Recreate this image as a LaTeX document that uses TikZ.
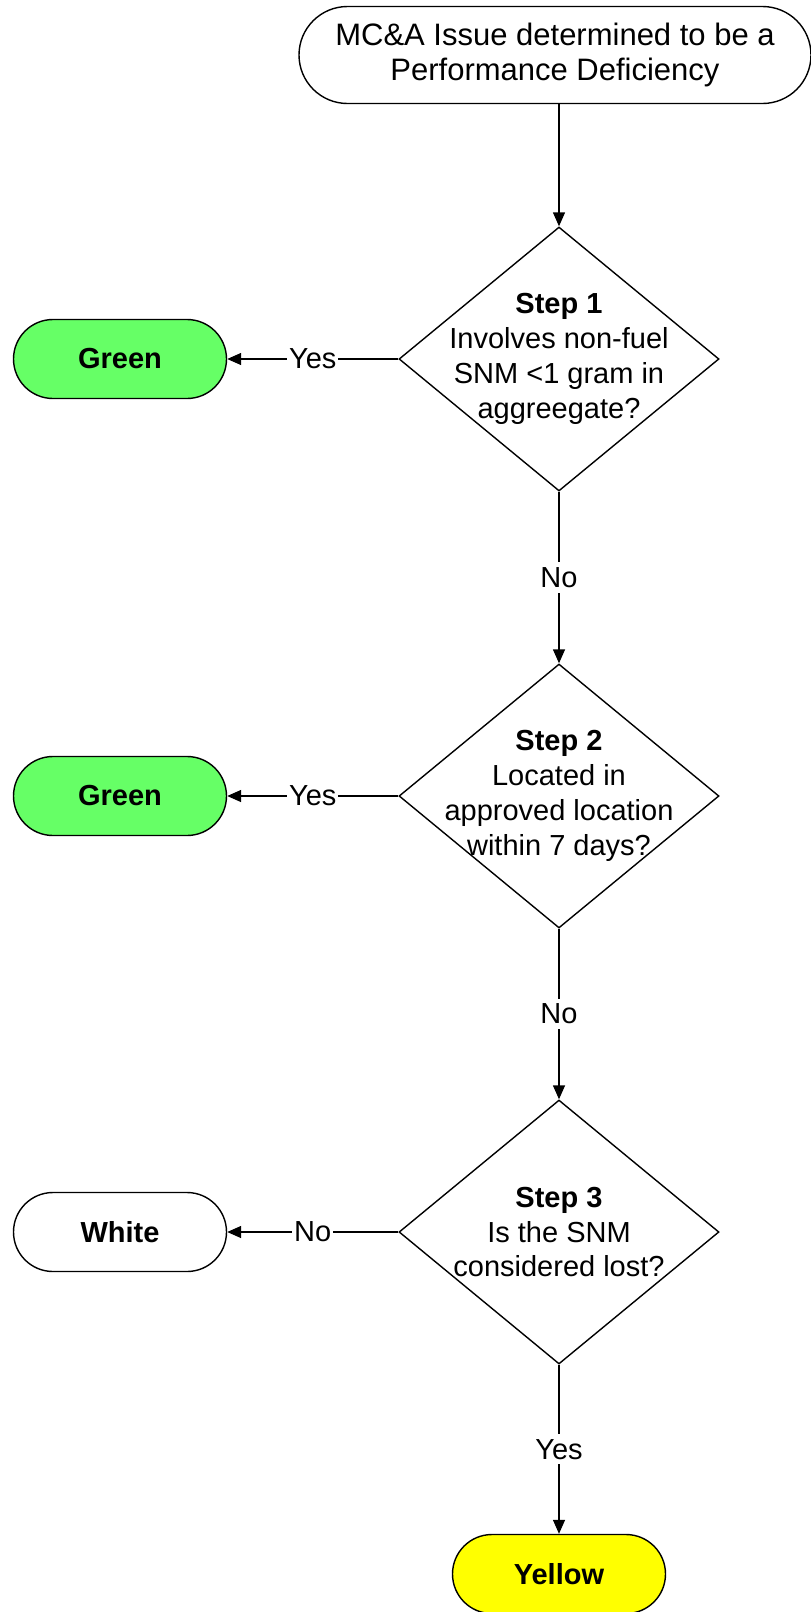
\documentclass[tikz,border=0pt]{standalone}
\usepackage{fontspec}
\setmainfont{Liberation Sans}
\usepackage{xcolor}
\usetikzlibrary{shapes.misc,shapes.geometric,arrows.meta}

\definecolor{passgreen}{RGB}{102,255,102}
\definecolor{passyellow}{RGB}{255,255,0}

\begin{document}
\begin{tikzpicture}[
	%	style def
    x=1pt, y=-1pt,
    important line/.style={line width=1.4pt},
    flow arrow/.style={important line, -{Triangle[length=14pt,width=12pt]}},
    start box/.style={rounded rectangle, draw, important line,
        minimum width=512pt, minimum height=97pt, inner sep=0pt, align=center,
        font=\fontsize{31}{35}\selectfont},
    terminal/.style={rounded rectangle, draw, important line, minimum width=213pt,
        minimum height=79pt, inner sep=0pt, font=\fontsize{29}{35}\selectfont\bfseries},
    decision/.style={diamond, draw, important line, minimum width=320pt, minimum height=264pt, inner sep=0pt},
    decision text/.style={align=center, inner sep=0pt, font=\fontsize{29}{35}\selectfont},
    answer/.style={fill=white, inner xsep=2pt, inner ysep=5pt, font=\fontsize{29}{35}\selectfont},
    every node/.style={color=black}
    ]
    \useasboundingbox (0,0) rectangle (811,1612);

	% issue box at the top
    \node[start box] (issue) at (555,55) {MC\&A Issue determined to be a\\Performance Deficiency};

	% the three steps
    \node[decision] (s1) at (559,359) {};
    \node[decision text] (s1text) at (s1) {\textbf{Step 1}\\Involves non-fuel\\SNM <1 gram in\\aggreegate?};
    \node[decision] (s2) at (559,796) {};
    \node[decision text] (s2text) at (s2) {\textbf{Step 2}\\Located in\\approved location\\within 7 days?};
    \node[decision] (s3) at (559,1232) {};
    \node[decision text] (s3text) at (s3) {\textbf{Step 3}\\Is the SNM\\considered lost?};

	% outcomes
    \node[terminal, fill=passgreen] (g1) at (120,359) {Green};
    \node[terminal, fill=passgreen] (g2) at (120,796) {Green};
    \node[terminal] (w3) at (120,1232) {White};
    \node[terminal, fill=passyellow] (y3) at (559,1574) {Yellow};

	% connections
    \draw[flow arrow] (issue.south -| s1.north) -- (s1.north);
    \draw[flow arrow] (s1.west) -- node[answer] (yes1) {Yes} (g1.east);
    \draw[flow arrow] (s1.south) -- node[answer] (no1) {No} (s2.north);
    \draw[flow arrow] (s2.west) -- node[answer] (yes2) {Yes} (g2.east);
    \draw[flow arrow] (s2.south) -- node[answer] (no2) {No} (s3.north);
    \draw[flow arrow] (s3.west) -- node[answer] (no3) {No} (w3.east);
    \draw[flow arrow] (s3.south) -- node[answer] (yes3) {Yes} (y3.north);

\end{tikzpicture}
\end{document}
